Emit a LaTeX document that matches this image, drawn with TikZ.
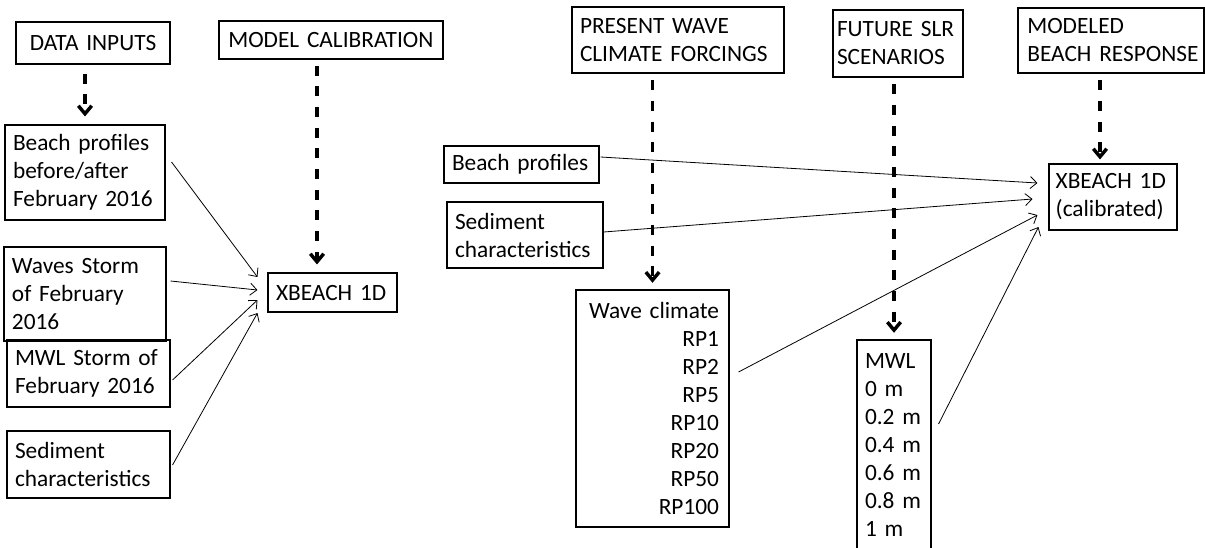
\documentclass[tikz,border=0pt]{standalone}
\usepackage{fontspec}
\setmainfont{Carlito}
\usetikzlibrary{arrows.meta}
\hyphenpenalty=10000

\begin{document}
\begin{tikzpicture}[x=0.75pt,y=-0.75pt,font=\fontsize{17.5}{21}\selectfont,
    box/.style={draw,line width=0.8pt,inner xsep=6pt,inner ysep=0pt,align=left},
    feed/.style={-{Straight Barb[length=5pt,width=9pt]},line width=0.6pt},
    flow/.style={-{Straight Barb[length=6pt,width=10pt]},line width=2.6pt,dash pattern=on 7.5pt off 8pt,shorten <=5pt,shorten >=5pt}]

                \useasboundingbox (0,0) rectangle (1205,547);

                \node[box,align=center,text width=103.5pt,minimum height=31.5pt] (datain) at (93,43) {DATA~INPUTS};

                \node[box,inner xsep=7pt,text width=154pt,minimum height=28.5pt] (calib) at (331,40) {MODEL~CALIBRATION};

                \node[box,text width=108pt,minimum height=71.25pt] (bprof) at (85,172.5) {Beach~profiles\\before/after\\February~2016};

                \node[box,text width=109.5pt,minimum height=70.5pt] (waves) at (85,294) {Waves~Storm\\of~February\\2016};

                \node[box,text width=110.25pt,minimum height=50.25pt] (mwlst) at (88.5,373.5) {MWL~Storm~of\\February~2016};

                \node[box,text width=110.25pt,minimum height=50.25pt] (sedl) at (88.5,464.5) {Sediment\\characteristics};

                \node[box,text width=84.75pt,minimum height=29.25pt] (xb) at (332.5,292.5) {XBEACH~1D};

                \node[box,text width=147pt,minimum height=49.5pt] (present) at (678,40) {PRESENT~WAVE\\CLIMATE~FORCINGS};

                \node[box,text width=104.25pt,minimum height=27.75pt] (bpr) at (521.5,164.5) {Beach~profiles};

                \node[box,text width=105pt,minimum height=49.5pt] (sedr) at (525,235) {Sediment\\characteristics};

                \node[box,align=right,inner xsep=7.5pt,text width=99.75pt,minimum height=177.75pt] (wclim) at (652.5,408.5) {Wave~climate\\RP1\\RP2\\RP5\\RP10\\RP20\\RP50\\RP100};

                \node[box,inner xsep=3pt,text width=91.5pt,minimum height=50.25pt] (future) at (898,43.5) {FUTURE~SLR\\SCENARIOS};

                \node[box,inner xsep=6pt,text width=43.5pt,minimum height=157.5pt] (mwl) at (894,445) {MWL\\0~m\\0.2~m\\0.4~m\\0.6~m\\0.8~m\\1~m};

                \node[box,inner xsep=7pt,text width=125.5pt,minimum height=48.75pt] (modeled) at (1111,40.5) {MODELED\\BEACH~RESPONSE};

                \node[box,inner xsep=5pt,text width=86pt,minimum height=49.5pt] (xbc) at (1113,197) {XBEACH~1D\\(calibrated)};

                \draw[flow,shorten <=6.75pt,shorten >=6pt] (datain.south -| bprof.north) -- (bprof.north);

                \draw[flow,shorten <=4.5pt,shorten >=6pt] ([xshift=-10.5pt]calib.south) -- ([xshift=-10.5pt]calib.south |- xb.north);

                \draw[flow] (present.south -| wclim.north) -- (wclim.north);

                \draw[flow] (future.south -| mwl.north) -- (mwl.north);

                \draw[flow,shorten >=3pt] ([xshift=-8.25pt]modeled.south) -- ([xshift=-8.25pt]modeled.south |- xbc.north);

                \path[feed] ([shift={(6,-10.5)}]bprof.east) edge ([shift={(-10,-15.5)}]xb.west)
                            ([shift={(4,-13)}]waves.east) edge ([shift={(-10,-2.5)}]xb.west)
                            ([shift={(2,6.5)}]mwlst.east) edge ([shift={(-10,7.5)}]xb.west)
                            ([shift={(2,0.5)}]sedl.east) edge ([shift={(-10,20.5)}]xb.west);

                \path[feed] ([shift={(1,-7.5)}]bpr.east) edge ([shift={(-11,-14)}]xbc.west)
                            ([shift={(0,-3)}]sedr.east) edge ([shift={(-16,2)}]xbc.west)
                            ([shift={(9,-36.5)}]wclim.east) edge ([shift={(-11,18)}]xbc.west)
                            ([shift={(7,-21)}]mwl.east) edge ([shift={(-10,30)}]xbc.west);

            \end{tikzpicture}
\end{document}
